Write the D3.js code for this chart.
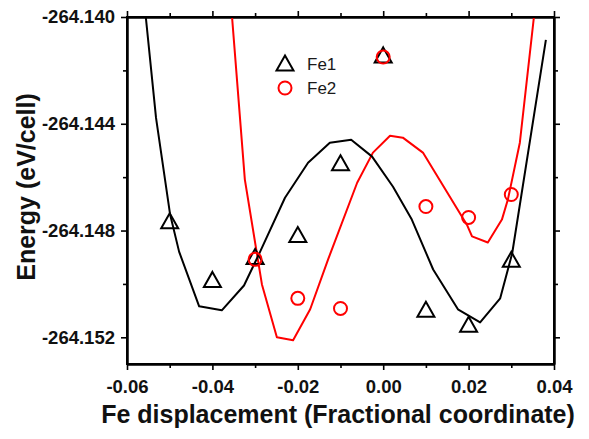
<!DOCTYPE html>
<html><head><meta charset="utf-8">
<script src="https://cdn.jsdelivr.net/npm/d3@7"></script>
<style>body{margin:0;background:#fff} svg{display:block}</style>
</head><body><svg id="c" width="589" height="439"></svg>
<script>
const xTicks = [-0.06,-0.04,-0.02,0.00,0.02,0.04];
const xTickLabels = ["-0.06","-0.04","-0.02","0.00","0.02","0.04"];
const xMinor = [-0.05,-0.03,-0.01,0.01,0.03];
const yTicks = [-264.140,-264.144,-264.148,-264.152];
const yTickLabels = ["-264.140","-264.144","-264.148","-264.152"];
const yMinor = [-264.142,-264.146,-264.150];
const seriesNames = ["Fe1","Fe2"];
const fe1X = [-0.05,-0.04,-0.03,-0.02,-0.01,0.00,0.01,0.02,0.03];
const fe1E = [-264.14763,-264.14983,-264.14897,-264.14815,-264.14546,-264.14142,-264.15095,-264.15151,-264.14908];
const fe2X = [-0.03,-0.02,-0.01,0.00,0.01,0.02,0.03];
const fe2E = [-264.14908,-264.15054,-264.15092,-264.14150,-264.14710,-264.14751,-264.14665];
const fit1X = [-0.0556,-0.0532,-0.0499,-0.0478,-0.0431,-0.0378,-0.0326,-0.0289,-0.0230,-0.0176,-0.0125,-0.0075,-0.0026,0.0023,0.0067,0.0117,0.0175,0.0227,0.0274,0.0302,0.0381];
const fit1E = [-264.14000,-264.14378,-264.14740,-264.14879,-264.15084,-264.15099,-264.15006,-264.14882,-264.14677,-264.14546,-264.14471,-264.14460,-264.14523,-264.14636,-264.14759,-264.14946,-264.15095,-264.15144,-264.15054,-264.14886,-264.14086];
const fit2X = [-0.0354,-0.0324,-0.0284,-0.0249,-0.0211,-0.0171,-0.0129,-0.0061,-0.0024,0.0016,0.0046,0.0093,0.0196,0.0208,0.0245,0.0278,0.0292,0.0320,0.0353];
const fit2E = [-264.14000,-264.14609,-264.15002,-264.15200,-264.15211,-264.15095,-264.14908,-264.14621,-264.14508,-264.14445,-264.14452,-264.14508,-264.14778,-264.14822,-264.14845,-264.14759,-264.14684,-264.14471,-264.14000];

const L = 127, R = 554, T = 17, B = 364;
const FONT = "'Liberation Sans', Arial, sans-serif";
const svg = d3.select("#c");
const x = d3.scaleLinear().domain([-0.06, 0.04]).range([L, R]);
const y = d3.scaleLinear().domain([-264.153, -264.140]).range([B, T]);

function styleAxis(g){
  g.selectAll("path.domain").attr("stroke","#000").attr("stroke-width",2);
  g.selectAll(".tick line").attr("stroke","#000").attr("stroke-width",1.6);
  g.selectAll("text").attr("font-family",FONT).attr("font-weight","bold").attr("font-size","18.5px").attr("fill","#111");
}
// bottom
svg.append("g").attr("transform",`translate(0,${B})`)
  .call(d3.axisBottom(x).tickValues(xTicks).tickFormat((d,i)=>xTickLabels[i]).tickSize(6).tickSizeOuter(0).tickPadding(10)).call(styleAxis);
svg.append("g").attr("transform",`translate(0,${B})`)
  .call(d3.axisBottom(x).tickValues(xMinor).tickFormat("").tickSize(4).tickSizeOuter(0)).call(styleAxis);
// top
svg.append("g").attr("transform",`translate(0,${T})`)
  .call(d3.axisTop(x).tickValues(xTicks).tickFormat("").tickSize(6).tickSizeOuter(0)).call(styleAxis);
svg.append("g").attr("transform",`translate(0,${T})`)
  .call(d3.axisTop(x).tickValues(xMinor).tickFormat("").tickSize(4).tickSizeOuter(0)).call(styleAxis);
// left
svg.append("g").attr("transform",`translate(${L},0)`)
  .call(d3.axisLeft(y).tickValues(yTicks).tickFormat((d,i)=>yTickLabels[i]).tickSize(6).tickSizeOuter(0).tickPadding(6)).call(styleAxis);
svg.append("g").attr("transform",`translate(${L},0)`)
  .call(d3.axisLeft(y).tickValues(yMinor).tickFormat("").tickSize(4).tickSizeOuter(0)).call(styleAxis);
// right
svg.append("g").attr("transform",`translate(${R},0)`)
  .call(d3.axisRight(y).tickValues(yTicks).tickFormat("").tickSize(6).tickSizeOuter(0)).call(styleAxis);
svg.append("g").attr("transform",`translate(${R},0)`)
  .call(d3.axisRight(y).tickValues(yMinor).tickFormat("").tickSize(4).tickSizeOuter(0)).call(styleAxis);

svg.append("defs").append("clipPath").attr("id","clip").append("rect")
  .attr("x",L).attr("y",T).attr("width",R-L).attr("height",B-T);

const line = d3.line().x(d=>x(d[0])).y(d=>y(d[1]));
const plot = svg.append("g").attr("clip-path","url(#clip)");
plot.append("path").datum(d3.zip(fit2X, fit2E)).attr("d",line)
  .attr("fill","none").attr("stroke","#ff0000").attr("stroke-width",2).attr("stroke-linejoin","round");
plot.append("path").datum(d3.zip(fit1X, fit1E)).attr("d",line)
  .attr("fill","none").attr("stroke","#000").attr("stroke-width",2).attr("stroke-linejoin","round");

const tri = "M0,-7.5 L8.5,7.5 L-8.5,7.5 Z";
svg.append("g").selectAll("path").data(d3.zip(fe1X, fe1E)).join("path")
  .attr("d",tri).attr("transform",d=>`translate(${x(d[0])},${y(d[1])})`)
  .attr("fill","none").attr("stroke","#000").attr("stroke-width",2).attr("stroke-linejoin","miter");
svg.append("g").selectAll("circle").data(d3.zip(fe2X, fe2E)).join("circle")
  .attr("cx",d=>x(d[0])).attr("cy",d=>y(d[1])).attr("r",6.5)
  .attr("fill","none").attr("stroke","#ff0000").attr("stroke-width",2);

// frame
svg.append("rect").attr("x",L).attr("y",T).attr("width",R-L).attr("height",B-T)
  .attr("fill","none").attr("stroke","#000").attr("stroke-width",2);

// legend
const lg = svg.append("g");
lg.append("path").attr("d",tri).attr("transform","translate(285,63)")
  .attr("fill","none").attr("stroke","#000").attr("stroke-width",2);
lg.append("circle").attr("cx",285).attr("cy",88).attr("r",6.5)
  .attr("fill","none").attr("stroke","#ff0000").attr("stroke-width",2);
lg.selectAll("text").data(seriesNames).join("text")
  .attr("x",307).attr("y",(d,i)=>70+i*24).text(d=>d)
  .attr("font-family",FONT).attr("font-size","17px").attr("fill","#1a1a1a");

// titles
svg.append("text").attr("x",338).attr("y",423).attr("text-anchor","middle")
  .attr("font-family",FONT).attr("font-weight","bold").attr("font-size","25px").attr("fill","#111")
  .text("Fe displacement (Fractional coordinate)");
svg.append("text").attr("transform","translate(35,187) rotate(-90)").attr("text-anchor","middle")
  .attr("font-family",FONT).attr("font-weight","bold").attr("font-size","25px").attr("fill","#111")
  .text("Energy (eV/cell)");
</script></body></html>
